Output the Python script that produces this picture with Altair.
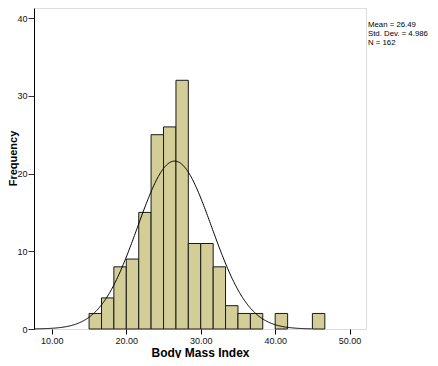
import altair as alt
import pandas as pd

# Histogram bins (Body Mass Index), bin width ~1.667
bin_starts = [15.00, 16.67, 18.33, 20.00, 21.67, 23.33, 25.00, 26.67, 28.33,
              30.00, 31.67, 33.33, 35.00, 36.67, 38.33, 40.00, 41.67, 43.33, 45.00]
bin_ends = [16.67, 18.33, 20.00, 21.67, 23.33, 25.00, 26.67, 28.33, 30.00,
            31.67, 33.33, 35.00, 36.67, 38.33, 40.00, 41.67, 43.33, 45.00, 46.67]
counts = [2, 4, 8, 9, 15, 25, 26, 32, 11, 11, 8, 3, 2, 2, 0, 2, 0, 0, 2]

# Stated normal-fit statistics
mean_bmi = 26.49
sd_bmi = 4.986
n_obs = 162
bin_width = 5.0 / 3.0
curve_start = 7.6
curve_end = 45.0

x_ticks = [10, 20, 30, 40, 50]
y_ticks = [0, 10, 20, 30, 40]
stats_lines = ["Mean = 26.49", "Std. Dev. = 4.986", "N = 162"]

bars_df = pd.DataFrame({"start": bin_starts, "end": bin_ends, "count": counts})
bars_df = bars_df[bars_df["count"] > 0]

xscale = alt.Scale(domain=[7.6, 52.2], nice=False, zero=False)
yscale = alt.Scale(domain=[0, 41.3], nice=False)

FONT = "Liberation Sans"

bars = alt.Chart(bars_df).mark_bar(
    fill="#d3ce97", stroke="#1a1a1a", strokeWidth=1
).encode(
    x=alt.X("start:Q", scale=xscale,
            axis=alt.Axis(values=x_ticks, format=".2f", title="Body Mass Index",
                          grid=False, domain=False, tickColor="#000000", tickSize=5,
                          labelPadding=2, labelFontSize=9, labelColor="#111111",
                          labelFont=FONT, titleFont=FONT, titleFontSize=12,
                          titleFontWeight="bold", titleColor="#000000",
                          titleY=27, titleBaseline="alphabetic")),
    x2="end:Q",
    y=alt.Y("count:Q", scale=yscale,
            axis=alt.Axis(values=y_ticks, format="d", title="Frequency",
                          grid=False, domain=True, domainColor="#000000",
                          tickColor="#333333", tickSize=6, labelPadding=1,
                          labelFontSize=9, labelColor="#111111", labelFont=FONT,
                          titleFont=FONT, titleFontSize=11, titleFontWeight="bold",
                          titleColor="#000000", titleAngle=-90, titleX=-21,
                          titleY=150, titleAlign="center", titleBaseline="middle")),
    y2=alt.datum(0),
)

curve = alt.Chart(
    alt.sequence(curve_start, curve_end, 0.1, as_="bmi")
).transform_calculate(
    freq=f"{n_obs} * {bin_width} * densityNormal(datum.bmi, {mean_bmi}, {sd_bmi})"
).mark_line(color="#000000", strokeWidth=1).encode(
    x=alt.X("bmi:Q", scale=xscale),
    y=alt.Y("freq:Q", scale=yscale),
)

stats = alt.Chart(pd.DataFrame({"t": [0]})).mark_text(
    align="left", baseline="top", font=FONT, fontSize=7.8, lineHeight=8.8,
    color="#000000"
).encode(
    x=alt.value(334),
    y=alt.value(13),
    text=alt.value(stats_lines),
)

chart = alt.layer(bars, curve, stats).properties(
    width=332, height=321,
    autosize=alt.AutoSizeParams(type="none"),
    padding={"left": 26, "top": 0, "right": 64, "bottom": 29},
).configure_view(
    fill="#f2f2f4", stroke="#8a8a8a", strokeWidth=1
).configure(background="#ffffff")

chart.save("out.html", embed_options={"renderer": "svg", "actions": False})
